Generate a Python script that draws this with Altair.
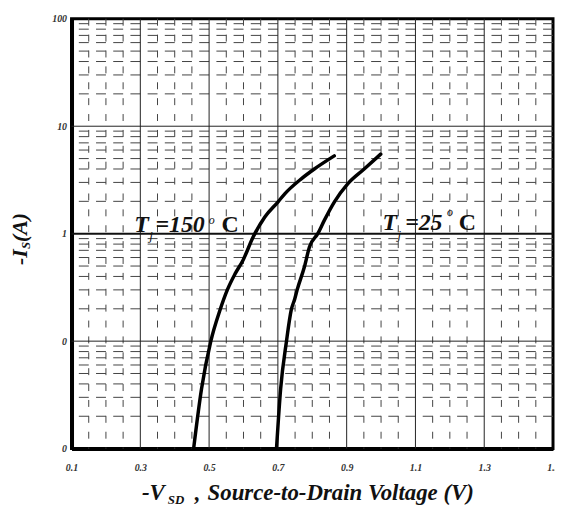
import altair as alt
import pandas as pd

# ---------------- data ----------------
v_150 = [0.455, 0.478, 0.505, 0.532, 0.553, 0.575, 0.599, 0.628, 0.662, 0.700, 0.720, 0.768, 0.806, 0.864]
i_150 = [0.01, 0.036, 0.1, 0.196, 0.30, 0.42, 0.57, 0.93, 1.43, 1.97, 2.35, 3.24, 4.0, 5.3]
v_25 = [0.696, 0.708, 0.725, 0.739, 0.749, 0.756, 0.777, 0.792, 0.816, 0.835, 0.864, 0.903, 0.951, 0.999]
i_25 = [0.01, 0.036, 0.1, 0.196, 0.247, 0.30, 0.49, 0.755, 1.0, 1.33, 1.97, 2.91, 4.0, 5.5]

x_ticks = [0.1, 0.3, 0.5, 0.7, 0.9, 1.1, 1.3, 1.5]
y_ticks = [0.01, 0.1, 1, 10, 100]
v_solid = [0.3, 0.5, 0.7, 0.9, 1.1, 1.3]
v_dashed = [0.15, 0.2, 0.25, 0.35, 0.4, 0.45, 0.55, 0.6, 0.65, 0.75, 0.8, 0.85,
            0.95, 1.0, 1.05, 1.15, 1.2, 1.25, 1.35, 1.4, 1.45]
h_solid = [0.1, 10]
h_bold = [1]
h_dashed = [m * d for d in [0.01, 0.1, 1, 10] for m in [2, 3, 4, 5, 6, 7, 8, 9]]

curves = pd.DataFrame({
    "V": v_150 + v_25,
    "I": i_150 + i_25,
    "series": ["150"] * len(v_150) + ["25"] * len(v_25),
})

W, H = 485, 433
FONT = "Liberation Serif"

xs = alt.Scale(domain=[0.1, 1.5], nice=False, zero=False)
ys = alt.Scale(type="log", domain=[0.01, 100], nice=False)

xaxis = alt.Axis(values=x_ticks, labelExpr="format(datum.value, '.1f')", title=None,
                 grid=False, ticks=False, domain=True, domainColor="black", domainWidth=4,
                 labelFont=FONT, labelFontStyle="italic", labelFontWeight="bold",
                 labelFontSize=10, labelColor="#333", labelPadding=14, labelFlush=False)
yaxis = alt.Axis(values=y_ticks, labelExpr="datum.value >= 1 ? format(datum.value, 'd') : '0'",
                 title=None, grid=False, ticks=False, domain=True, domainColor="black",
                 domainWidth=4, labelFont=FONT, labelFontStyle="italic", labelFontWeight="bold",
                 labelFontSize=10, labelColor="#333", labelPadding=5, labelFlush=False)

def vrules(vals, dash, width, color):
    m = alt.Chart(pd.DataFrame({"v": vals})).mark_rule(color=color, strokeWidth=width,
                                                        **({"strokeDash": dash} if dash else {}))
    return m.encode(x=alt.X("v:Q", scale=xs, axis=xaxis))

def hrules(vals, dash, width, color):
    m = alt.Chart(pd.DataFrame({"i": vals})).mark_rule(color=color, strokeWidth=width,
                                                        **({"strokeDash": dash} if dash else {}))
    return m.encode(y=alt.Y("i:Q", scale=ys, axis=yaxis))

layers = [
    hrules(h_dashed, [10, 7.32], 1, "#444"),
    vrules(v_dashed, [7, 9], 1, "#444"),
    vrules(v_solid, None, 1, "#222"),
    hrules(h_solid, None, 1, "#222"),
    hrules(h_bold, None, 2, "#111"),
]

line = alt.Chart(curves).mark_line(color="black", strokeWidth=3.5, strokeCap="round",
                                   interpolate="monotone").encode(
    x=alt.X("V:Q", scale=xs, axis=xaxis),
    y=alt.Y("I:Q", scale=ys, axis=yaxis),
    detail="series:N",
)
layers.append(line)

# annotation pieces
ann_text = ["T", "j", "=150", "o", "C", "T", "j", "=25", "o", "C"]
ann_v = [0.282, 0.326, 0.344, 0.499, 0.536, 1.004, 1.048, 1.070, 1.192, 1.226]
ann_i = [1.03, 0.87, 1.03, 1.22, 1.03, 1.08, 0.89, 1.08, 1.45, 1.08]
ann_size = [24, 13, 24, 12, 24, 24, 13, 24, 12, 24]
ann_style = ["italic", "italic", "italic", "italic", "normal"] * 2
ann_weight = ["bold", "normal", "bold", "normal", "bold"] * 2

for t, v, i, s, st, wt in zip(ann_text, ann_v, ann_i, ann_size, ann_style, ann_weight):
    layers.append(
        alt.Chart(pd.DataFrame({"a": [0]})).mark_text(
            text=t, font=FONT, fontSize=s, fontStyle=st, fontWeight=wt,
            align="left", baseline="alphabetic", color="#111"
        ).encode(x=alt.datum(v, scale=xs), y=alt.datum(i, scale=ys))
    )

# axis titles built from pieces (for subscripts)
xt_text = ["-V", "SD", ",", "Source-to-Drain Voltage (V)"]
xt_x = [71, 97, 124, 137]
xt_y = [485, 489, 485, 485]
xt_size = [23, 13, 23, 23]
for t, x, y, s in zip(xt_text, xt_x, xt_y, xt_size):
    layers.append(
        alt.Chart(pd.DataFrame({"a": [0]})).mark_text(
            text=t, font=FONT, fontSize=s, fontStyle="italic", fontWeight="bold",
            align="left", baseline="alphabetic", color="#111"
        ).encode(x=alt.value(x), y=alt.value(y))
    )

yt_text = ["-I", "S", "(A)"]
yt_y = [248, 232, 225]
yt_x = [-45, -42, -45]
yt_size = [22, 13, 22]
for t, x, y, s in zip(yt_text, yt_x, yt_y, yt_size):
    layers.append(
        alt.Chart(pd.DataFrame({"a": [0]})).mark_text(
            text=t, font=FONT, fontSize=s, fontStyle="italic", fontWeight="bold",
            align="left", baseline="alphabetic", angle=270, color="#111"
        ).encode(x=alt.value(x), y=alt.value(y))
    )

chart = alt.layer(*layers).properties(
    width=W, height=H,
    autosize=alt.AutoSizeParams(type="none"),
    padding={"left": 64, "top": 9, "right": 2, "bottom": 60},
    background="white",
).configure_view(stroke="black", strokeWidth=3)

chart.save("out.html", embed_options={"renderer": "svg", "actions": False})
